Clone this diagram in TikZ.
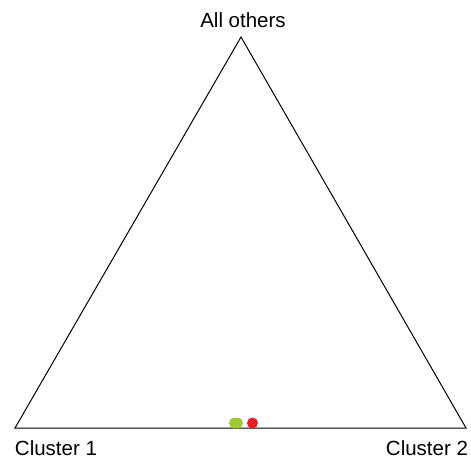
\documentclass[tikz,border=0pt]{standalone}
\usepackage{fontspec}
\setmainfont{Liberation Sans}
\usepackage{xcolor}
\usetikzlibrary{positioning}

\definecolor{dotgreen}{RGB}{160,200,50}
\definecolor{dotred}{RGB}{236,28,36}

\begin{document}
\begin{tikzpicture}[
  x=1pt, y=-1pt,
  corner/.style={font=\fontsize{20.5}{24}\selectfont, anchor=base, inner sep=0pt},
  dot/.style={circle, minimum size=11pt, inner sep=0pt},
  edge/.style={line width=1pt, line join=miter}
]
\useasboundingbox (0,0) rectangle (471,458);

% Triangle corners
\coordinate (c1) at (15,428);
\coordinate (c2) at (466,428);
\coordinate (top) at (241,37);

\draw[edge] (c1) -- (c2) -- (top) -- cycle;

% Corner labels
\node[corner] (lab1) at (56,455) {Cluster 1};
\node[corner] (lab2) at (427,455) {Cluster 2};
\node[corner] (labtop) at (243,27) {All others};

% Points on the bottom edge
\node[dot, fill=dotgreen] (g1) at (234.5,423) {};
\node[dot, fill=dotgreen] (g2) at (237.5,423) {};
\node[dot, fill=dotred] (r1) at (252.5,423) {};

\end{tikzpicture}
\end{document}
